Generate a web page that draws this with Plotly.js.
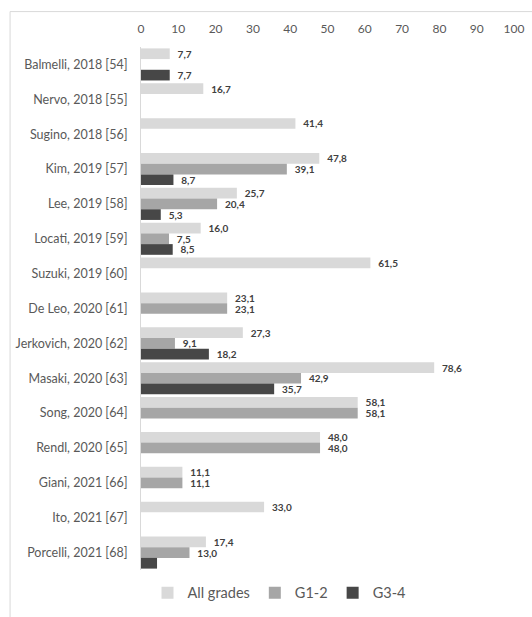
<!DOCTYPE html>
<html><head><meta charset="utf-8">
<script src="https://cdn.plot.ly/plotly-3.0.1.min.js"></script>
<style>html,body{margin:0;padding:0;background:#fff}#chart{width:532px;height:617px}</style>
</head><body><div id="chart"></div>
<script>
const studies = ["Balmelli, 2018 [54]","Nervo, 2018 [55]","Sugino, 2018 [56]","Kim, 2019 [57]","Lee, 2019 [58]","Locati, 2019 [59]","Suzuki, 2019 [60]","De Leo, 2020 [61]","Jerkovich, 2020 [62]","Masaki, 2020 [63]","Song, 2020 [64]","Rendl, 2020 [65]","Giani, 2021 [66]","Ito, 2021 [67]","Porcelli, 2021 [68]"];
const allGrades = [7.7,16.7,41.4,47.8,25.7,16.0,61.5,23.1,27.3,78.6,58.1,48.0,11.1,33.0,17.4];
const g12 = [null,null,null,39.1,20.4,7.5,null,23.1,9.1,42.9,58.1,48.0,11.1,null,13.0];
const g34 = [7.7,null,null,8.7,5.3,8.5,null,null,18.2,35.7,null,null,null,null,4.3];
const g34Labelled = [true,false,false,true,true,true,false,false,true,true,false,false,false,false,false];
const xTicks = [0,10,20,30,40,50,60,70,80,90,100];

const fmt = v => (v === null || v === undefined) ? "" : "  " + v.toFixed(1).replace(".", ",");
const series = [
  {name:"All grades", vals:allGrades, color:"#d9d9d9", text: allGrades.map(fmt)},
  {name:"G1-2", vals:g12, color:"#a6a6a6", text: g12.map(fmt)},
  {name:"G3-4", vals:g34, color:"#474747", text: g34.map((v,i)=> g34Labelled[i] ? fmt(v) : "")}
];
const data = series.map(s => ({
  type:"bar", orientation:"h", name:s.name, y:studies, x:s.vals,
  marker:{color:s.color, line:{width:0}},
  text:s.text, textposition:"outside", constraintext:"none", cliponaxis:false,
  textfont:{family:"Lato, sans-serif", size:10, color:"#404040", weight:"bold"},
  hoverinfo:"skip"
}));
const layout = {
  width:532, height:617,
  margin:{l:141, r:18, t:46.5, b:46.5, autoexpand:false},
  paper_bgcolor:"#fff", plot_bgcolor:"#fff",
  barmode:"group", bargap:0.08, bargroupgap:0,
  font:{family:"Lato, sans-serif", color:"#595959"},
  xaxis:{range:[0,100], side:"top", tickvals:xTicks, ticktext:xTicks.map(String),
    showgrid:false, zeroline:false, showline:false, ticks:"", ticklabelstandoff:11,
    tickfont:{size:12, color:"#595959"}, fixedrange:true},
  yaxis:{autorange:"reversed", showgrid:false, zeroline:false, showline:true,
    linecolor:"#d9d9d9", linewidth:1, ticks:"", ticklabelstandoff:10,
    tickfont:{size:12.5, color:"#595959"}},
  showlegend:true,
  legend:{orientation:"h", x:0.37, xanchor:"center", y:-0.013, yanchor:"top",
    font:{size:14.5, color:"#595959"}, traceorder:"normal", itemwidth:30},
  shapes:[{type:"rect", xref:"paper", yref:"paper", x0:-0.351, x1:2, y0:-1, y1:1.0677,
    line:{color:"#d9d9d9", width:1}, fillcolor:"rgba(0,0,0,0)", layer:"below"}]
};
Plotly.newPlot("chart", data, layout, {displayModeBar:false, staticPlot:true});
</script></body></html>
